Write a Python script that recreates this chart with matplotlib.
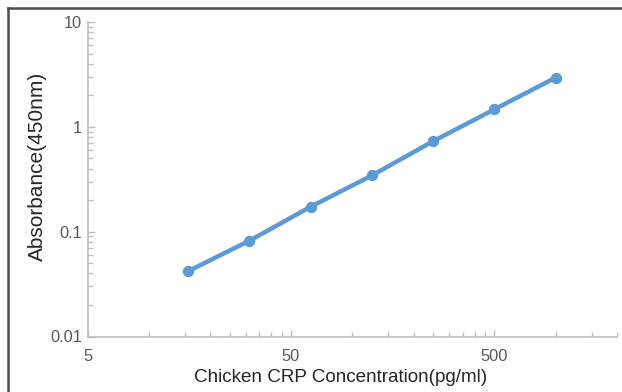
import matplotlib
matplotlib.use('Agg')
import matplotlib.pyplot as plt
import numpy as np
from matplotlib.lines import Line2D
from matplotlib.ticker import FixedLocator, NullFormatter

# standard curve values
concentration = [15.625, 31.25, 62.5, 125, 250, 500, 1000]
absorbance = [0.042, 0.082, 0.173, 0.344, 0.73, 1.47, 2.95]

x_major = [5, 50, 500]
x_major_labels = ['5', '50', '500']
x_minor = [10, 15, 20, 25, 30, 35, 40, 45,
           100, 150, 200, 250, 300, 350, 400, 450,
           1000, 1500, 2000]
y_major = [0.01, 0.1, 1, 10]
y_major_labels = ['0.01', '0.1', '1', '10']

plt.rcParams['font.family'] = ['Liberation Sans', 'DejaVu Sans']

W, H = 622, 392
fig = plt.figure(figsize=(W / 100, H / 100), dpi=100)
ax = fig.add_axes([87.5 / W, 1 - 336.5 / H, (617 - 87.5) / W, (336.5 - 22) / H])

blue = '#5B9BD5'
ax.plot(concentration, absorbance, color=blue, lw=3.2, marker='o',
        markersize=7.2, markerfacecolor=blue, markeredgecolor=blue,
        solid_capstyle='round', zorder=3)

ax.set_xscale('log')
ax.set_yscale('log')
ax.set_xlim(5, 2000)
ax.set_ylim(0.01, 10)

ax.xaxis.set_major_locator(FixedLocator(x_major))
ax.set_xticklabels(x_major_labels)
ax.xaxis.set_minor_locator(FixedLocator(x_minor))
ax.xaxis.set_minor_formatter(NullFormatter())
ax.yaxis.set_major_locator(FixedLocator(y_major))
ax.set_yticklabels(y_major_labels)
ax.yaxis.set_minor_locator(FixedLocator(
    [m * 10.0 ** e for e in (-2, -1, 0) for m in range(2, 10)]))
ax.yaxis.set_minor_formatter(NullFormatter())

axis_gray = '#BFBFBF'
for side in ('top', 'right'):
    ax.spines[side].set_visible(False)
for side in ('left', 'bottom'):
    ax.spines[side].set_color(axis_gray)
    ax.spines[side].set_linewidth(1.2)

ax.tick_params(which='both', direction='in', colors=axis_gray,
               labelcolor='#595959', labelsize=11.8, width=1.0)
ax.tick_params(which='major', length=5)
ax.tick_params(which='minor', length=3.5)
ax.tick_params(axis='x', which='major', pad=9)
ax.tick_params(axis='y', which='major', pad=4)

ax.set_xlabel('Chicken CRP Concentration(pg/ml)', fontsize=13.6,
              color='#262626')
ax.xaxis.set_label_coords(0.477, -0.103)
ax.set_ylabel('Absorbance(450nm)', fontsize=15, color='#262626')
ax.yaxis.set_label_coords(-0.0765, 0.54)

# outer frame, only top and left edges are visible in the crop
frame = '#4D4D4D'
fig.add_artist(Line2D([8 / W, 8 / W], [0, 1 - 8 / H], transform=fig.transFigure,
                      color=frame, lw=1.8))
fig.add_artist(Line2D([8 / W, 1], [1 - 8 / H, 1 - 8 / H], transform=fig.transFigure,
                      color=frame, lw=1.8))

fig.savefig('out.png', dpi=100, facecolor='white')
